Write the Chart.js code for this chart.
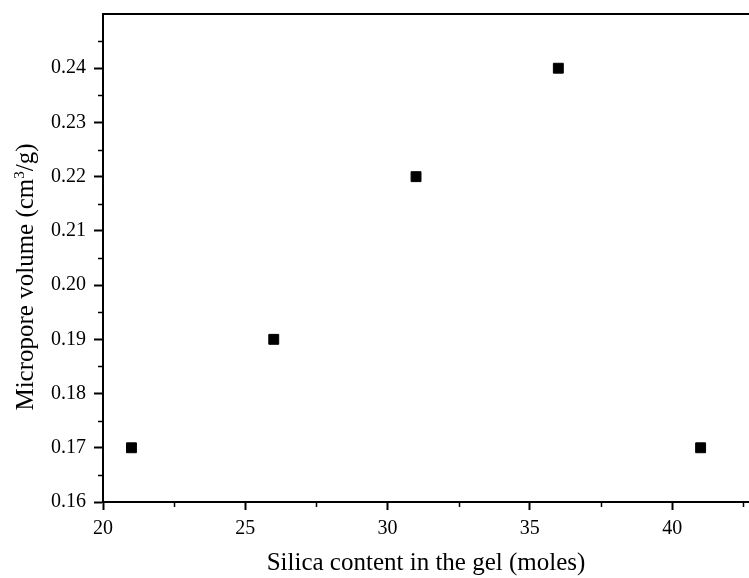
<!DOCTYPE html>
<html>
<head>
<meta charset="utf-8">
<script src="https://cdn.jsdelivr.net/npm/chart.js@4.4.0/dist/chart.umd.min.js"></script>
<style>
  html, body { margin: 0; padding: 0; background: #fff; }
  #wrap { width: 749px; height: 578px; }
</style>
</head>
<body>
<div id="wrap"><canvas id="myChart" width="749" height="578"></canvas></div>
<script>
// Global font settings
const SERIF = '"Liberation Serif", "Times New Roman", serif';
Chart.defaults.font.family = SERIF;
Chart.defaults.color = '#000';

// Data
const silica = [21, 26, 31, 36, 41];
const micropore = [0.17, 0.19, 0.22, 0.24, 0.17];

// Axis ticks
const xTicks = [20, 25, 30, 35, 40];
const xMinor = [22.5, 27.5, 32.5, 37.5, 42.5];
const yTicks = [0.16, 0.17, 0.18, 0.19, 0.20, 0.21, 0.22, 0.23, 0.24];
const yMinor = [0.165, 0.175, 0.185, 0.195, 0.205, 0.215, 0.225, 0.235, 0.245];

// minor ticks, top frame line and the y title (with a real superscript)
const frame = {
    id: 'frame',
    afterDraw(chart) {
        const { ctx, chartArea, scales: { x, y } } = chart;
        ctx.save();
        ctx.strokeStyle = '#000';
        ctx.lineWidth = 2;
        ctx.beginPath();
        ctx.moveTo(chartArea.left - 1, chartArea.top);
        ctx.lineTo(chartArea.right, chartArea.top);
        ctx.stroke();
        ctx.lineWidth = 1.5;
        ctx.beginPath();
        for (const v of xMinor) {
            const px = Math.round(x.getPixelForValue(v)) + 0.5;
            ctx.moveTo(px, chartArea.bottom);
            ctx.lineTo(px, chartArea.bottom + 5);
        }
        for (const v of yMinor) {
            const py = Math.round(y.getPixelForValue(v)) + 0.5;
            ctx.moveTo(chartArea.left, py);
            ctx.lineTo(chartArea.left - 5, py);
        }
        ctx.stroke();

        // y axis title
        const parts = [
            { t: 'Micropore volume (cm', size: 25, dy: 0 },
            { t: '3', size: 15, dy: -9 },
            { t: '/g)', size: 25, dy: 0 }
        ];
        let total = 0;
        for (const p of parts) {
            ctx.font = p.size + 'px ' + SERIF;
            p.w = ctx.measureText(p.t).width;
            total += p.w;
        }
        ctx.translate(33, 277);
        ctx.rotate(-Math.PI / 2);
        ctx.fillStyle = '#000';
        ctx.textBaseline = 'alphabetic';
        let cx = -total / 2;
        for (const p of parts) {
            ctx.font = p.size + 'px ' + SERIF;
            ctx.fillText(p.t, cx, p.dy);
            cx += p.w;
        }
        ctx.restore();
    }
};

new Chart(document.getElementById('myChart'), {
    type: 'scatter',
    data: {
        datasets: [{
            data: silica.map((s, i) => ({ x: s, y: micropore[i] })),
            pointStyle: 'rect',
            pointRadius: 7,
            pointHoverRadius: 7,
            backgroundColor: '#000',
            borderColor: '#000',
            borderWidth: 1
        }]
    },
    options: {
        responsive: false,
        animation: false,
        layout: { autoPadding: false, padding: { top: 14, right: 0, left: 0, bottom: 0 } },
        plugins: { legend: { display: false }, tooltip: { enabled: false } },
        scales: {
            x: {
                type: 'linear',
                min: 20,
                max: 42.7,
                afterBuildTicks: s => { s.ticks = xTicks.map(v => ({ value: v })); },
                afterFit: s => { s.height = 76; s.paddingLeft = 0; s.paddingRight = 0; },
                grid: { drawOnChartArea: false, tickLength: 8, tickWidth: 2, tickColor: '#000' },
                border: { color: '#000', width: 2 },
                ticks: { font: { size: 20 }, padding: 7, maxRotation: 0 },
                title: {
                    display: true,
                    text: 'Silica content in the gel (moles)',
                    font: { size: 25 },
                    padding: { top: 0, bottom: 0 }
                }
            },
            y: {
                type: 'linear',
                min: 0.16,
                max: 0.25,
                afterBuildTicks: s => { s.ticks = yTicks.map(v => ({ value: v })); },
                afterFit: s => { s.width = 103; s.paddingTop = 0; s.paddingBottom = 0; },
                grid: { drawOnChartArea: false, tickLength: 9, tickWidth: 2, tickColor: '#000' },
                border: { color: '#000', width: 2 },
                ticks: {
                    font: { size: 20 },
                    padding: 8,
                    callback: v => v.toFixed(2)
                },
                title: { display: false }
            }
        }
    },
    plugins: [frame]
});
</script>
</body>
</html>
